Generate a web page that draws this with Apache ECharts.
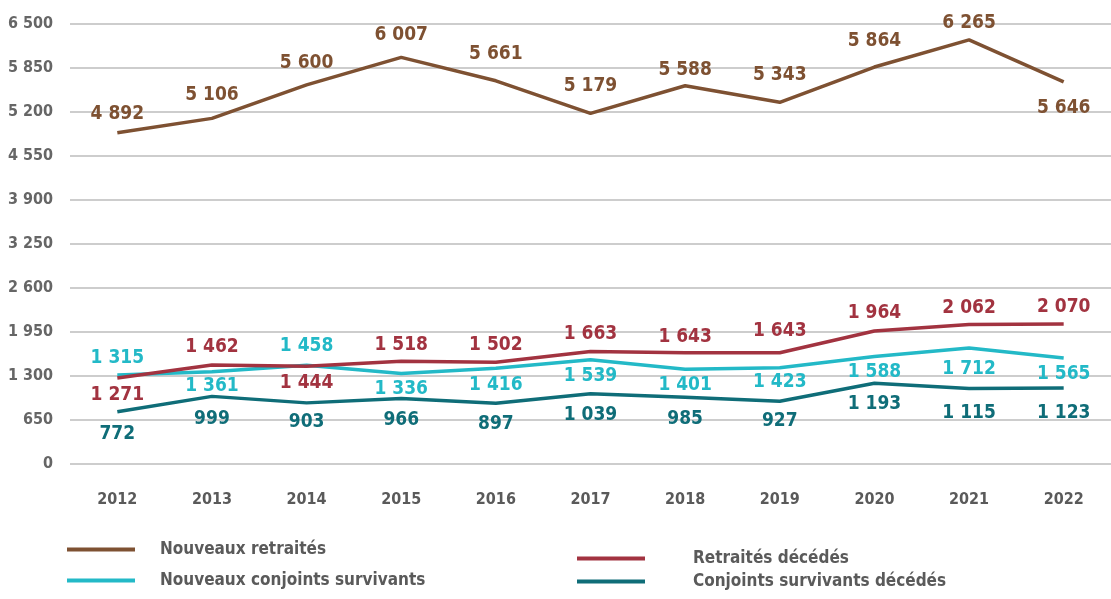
<!DOCTYPE html>
<html>
<head>
<meta charset="utf-8">
<script src="https://cdn.jsdelivr.net/npm/echarts@6/dist/echarts.min.js"></script>
<style>
html,body{margin:0;padding:0;background:#fff;}
#chart{width:1111px;height:599px;}
</style>
</head>
<body>
<div id="chart"></div>
<script>
// ---- Data ----
const years = ['2012','2013','2014','2015','2016','2017','2018','2019','2020','2021','2022'];
const nouveauxRetraites = [4892, 5106, 5600, 6007, 5661, 5179, 5588, 5343, 5864, 6265, 5646];
const retraitesDecedes = [1271, 1462, 1444, 1518, 1502, 1663, 1643, 1643, 1964, 2062, 2070];
const nouveauxConjoints = [1315, 1361, 1458, 1336, 1416, 1539, 1401, 1423, 1588, 1712, 1565];
const conjointsDecedes = [772, 999, 903, 966, 897, 1039, 985, 927, 1193, 1115, 1123];
const seriesNames = ['Nouveaux retraités', 'Nouveaux conjoints survivants', 'Retraités décédés', 'Conjoints survivants décédés'];
const yTicks = [0, 650, 1300, 1950, 2600, 3250, 3900, 4550, 5200, 5850, 6500];

// ---- Label placement (style, not data) ----
const T = 'top', B = 'bottom';
const posNR = [T,T,T,T,T,T,T,T,T,T,B];
const posRD = [B,T,B,T,T,T,T,T,T,T,T];
const posNC = [T,B,T,B,B,B,B,B,B,B,B];
const posCD = [B,B,B,B,B,B,B,B,B,B,B];
// vertical nudges of labels (px, positive = down)
const nudgeNR = [-2,-7,-5,-6,-10,-11,1,-11,-9,0,10];
const nudgeRD = [1,-1,0,0,-1,-1,1,-5,-1,0,0];
const nudgeNC = [0,-2,-3,-1,0,0,-1,-2,-1,4,0];
const nudgeCD = [6,6,3,5,4,5,5,3,4,8,9];

const FONT = "'Liberation Sans Narrow', 'DejaVu Sans Condensed', sans-serif";
const fmt = v => String(v).replace(/\B(?=(\d{3})+(?!\d))/g, ' ');
const BASE_DIST = 7;

const colors = {
  nr: '#7e5132',
  rd: '#a23340',
  nc: '#23b9c7',
  cd: '#0f6d78'
};

function buildSeries(name, values, positions, nudges, color) {
  return {
    name: name,
    type: 'line',
    data: values.map((v, i) => ({
      value: v,
      label: {
        position: positions[i],
        distance: positions[i] === 'top' ? BASE_DIST - nudges[i] : BASE_DIST + nudges[i]
      }
    })),
    symbol: 'circle',
    symbolSize: 0,
    showSymbol: true,
    lineStyle: { color: color, width: 3.5 },
    itemStyle: { color: color },
    label: {
      show: true,
      distance: BASE_DIST,
      color: color,
      fontFamily: FONT,
      fontWeight: 'bold',
      fontSize: 19,
      formatter: p => fmt(p.value)
    },
    labelLayout: { hideOverlap: false },
    z: 2
  };
}

const chart = echarts.init(document.getElementById('chart'), null, { renderer: 'canvas' });

function legendFor(name, left, top, gap) {
  return {
    data: [name],
    left: left,
    top: top,
    padding: 0,
    icon: 'rect',
    itemWidth: 68,
    itemHeight: 4,
    selectedMode: false,
    textStyle: {
      color: '#5a5a5a',
      fontFamily: FONT,
      fontSize: 17,
      fontWeight: 'bold',
      padding: [0, 0, 0, gap]
    }
  };
}

chart.setOption({
  animation: false,
  grid: { left: 70, right: 0, top: 24, bottom: 135, containLabel: false },
  legend: [
    legendFor(seriesNames[0], 67, 541, 20),
    legendFor(seriesNames[1], 67, 572, 20),
    legendFor(seriesNames[2], 577, 550, 43),
    legendFor(seriesNames[3], 577, 573, 43)
  ],
  xAxis: {
    type: 'category',
    data: years,
    boundaryGap: true,
    axisLine: { show: false },
    axisTick: { show: false },
    axisLabel: {
      color: '#5a5a5a',
      fontFamily: FONT,
      fontWeight: 'bold',
      fontSize: 16,
      margin: 28
    }
  },
  yAxis: {
    type: 'value',
    min: yTicks[0],
    max: yTicks[yTicks.length - 1],
    interval: yTicks[1] - yTicks[0],
    axisLine: { show: false },
    axisTick: { show: false },
    splitLine: { lineStyle: { color: '#bdbdbd', width: 1.5 } },
    axisLabel: {
      color: '#666666',
      fontFamily: FONT,
      fontWeight: 'bold',
      fontSize: 16,
      margin: 17,
      formatter: v => fmt(v)
    }
  },
  series: [
    buildSeries(seriesNames[0], nouveauxRetraites, posNR, nudgeNR, colors.nr),
    buildSeries(seriesNames[1], nouveauxConjoints, posNC, nudgeNC, colors.nc),
    buildSeries(seriesNames[2], retraitesDecedes, posRD, nudgeRD, colors.rd),
    buildSeries(seriesNames[3], conjointsDecedes, posCD, nudgeCD, colors.cd)
  ]
});
</script>
</body>
</html>
